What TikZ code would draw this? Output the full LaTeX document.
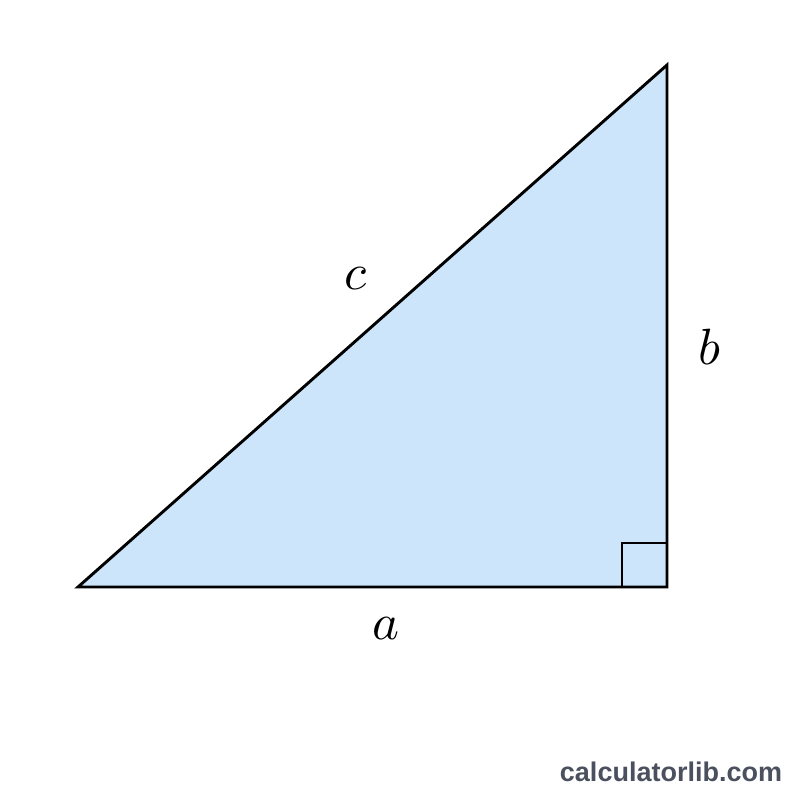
\documentclass[tikz,border=0pt]{standalone}
\usepackage{fontspec}
\newfontfamily\wmfont{Liberation Sans}
\definecolor{trifill}{RGB}{204,229,250}
\definecolor{wmcol}{RGB}{74,80,94}
\begin{document}
\begin{tikzpicture}[x=1pt,y=-1pt,
  edge/.style={line width=2.9pt,line join=miter},
  lbl/.style={inner sep=0pt,scale=5.1}]
\useasboundingbox[fill=white] (0,0) rectangle (800,800);
\coordinate (A) at (78,587);
\coordinate (C) at (667,587);
\coordinate (B) at (667,65);
\fill[trifill] (A) -- (C) -- (B) -- cycle;
\draw[edge] (622,587) -- (622,543) -- (667,543);
\draw[edge] (A) -- (C) -- (B) -- cycle;
\node[lbl] (lc) at (356,279) {$c$};
\node[lbl] (lb) at (709,347) {$b$};
\node[lbl] (la) at (386,629) {$a$};
\node[inner sep=0pt,text=wmcol,font=\wmfont\bfseries\fontsize{27}{27}\selectfont] (wm) at (671,772) {calculatorlib.com};
\end{tikzpicture}
\end{document}
